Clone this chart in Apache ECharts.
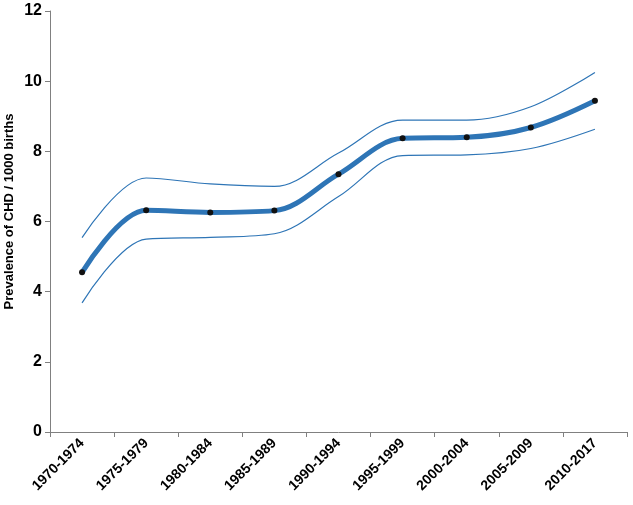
<!DOCTYPE html>
<html>
<head>
<meta charset="utf-8">
<script src="https://cdn.jsdelivr.net/npm/echarts@6/dist/echarts.min.js"></script>
<style>
  html, body { margin: 0; padding: 0; background: #fff; }
  #chartLineBox { width: 633px; height: 505px; }
</style>
</head>
<body>
<div id="chartLineBox"></div>
<script>
// 数据
var periods = ["1970-1974", "1975-1979", "1980-1984", "1985-1989", "1990-1994",
  "1995-1999", "2000-2004", "2005-2009", "2010-2017"];
var prevalence = [4.55, 6.32, 6.26, 6.31, 7.35, 8.37, 8.40, 8.68, 9.44];
var upperCI = [5.54, 7.24, 7.07, 7.00, 7.95, 8.89, 8.89, 9.27, 10.25];
var lowerCI = [3.68, 5.50, 5.55, 5.65, 6.71, 7.88, 7.90, 8.08, 8.63];
var yTicks = [0, 2, 4, 6, 8, 10, 12];

var blue = "#2E75B6";
var font = "'Liberation Sans', Arial, sans-serif";

var chartLine = echarts.init(document.getElementById("chartLineBox"));
var option = {
  animation: false,
  grid: {
    left: 50,
    right: 6,
    top: 11,
    bottom: 73,
    outerBoundsMode: "none"
  },
  xAxis: {
    type: "category",
    boundaryGap: true,
    data: periods,
    axisLine: { lineStyle: { color: "#808080", width: 1 } },
    axisTick: { show: true, length: 5, inside: false, lineStyle: { color: "#808080" } },
    axisLabel: {
      interval: 0,
      rotate: 45,
      margin: 9,
      color: "#000",
      fontFamily: font,
      fontWeight: "bold",
      fontSize: 14
    },
    splitLine: { show: false }
  },
  yAxis: {
    type: "value",
    min: yTicks[0],
    max: yTicks[yTicks.length - 1],
    interval: 2,
    name: "Prevalence of CHD / 1000 births",
    nameLocation: "middle",
    nameGap: 34,
    nameMoveOverlap: false,
    nameTextStyle: {
      color: "#000",
      fontFamily: font,
      fontWeight: "bold",
      fontSize: 13,
      padding: [0, 0, 0, 20]
    },
    axisLine: { show: true, lineStyle: { color: "#808080", width: 1 } },
    axisTick: { show: true, length: 5, lineStyle: { color: "#808080" } },
    axisLabel: {
      margin: 8,
      color: "#000",
      fontFamily: font,
      fontWeight: "bold",
      fontSize: 16
    },
    splitLine: { show: false }
  },
  series: [
    {
      name: "upper",
      type: "line",
      data: upperCI,
      smooth: 0.35,
      showSymbol: false,
      symbol: "none",
      lineStyle: { color: blue, width: 1.2 },
      z: 2
    },
    {
      name: "lower",
      type: "line",
      data: lowerCI,
      smooth: 0.35,
      showSymbol: false,
      symbol: "none",
      lineStyle: { color: blue, width: 1.2 },
      z: 2
    },
    {
      name: "prevalence",
      type: "line",
      data: prevalence,
      smooth: 0.35,
      symbol: "circle",
      symbolSize: 6,
      itemStyle: { color: "#111", borderWidth: 0 },
      lineStyle: { color: blue, width: 5 },
      z: 3
    }
  ]
};
chartLine.setOption(option);
</script>
</body>
</html>
